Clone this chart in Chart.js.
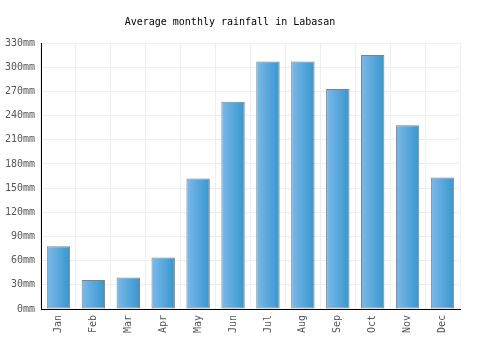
<!DOCTYPE html>
<html>
<head>
<meta charset="utf-8">
<script src="https://cdn.jsdelivr.net/npm/chart.js@4"></script>
<style>
  html, body { margin: 0; padding: 0; background: #fff; }
  #wrap { width: 500px; height: 350px; }
</style>
</head>
<body>
<div id="wrap"><canvas id="chart" width="500" height="350"></canvas></div>
<script>
const months = ['Jan', 'Feb', 'Mar', 'Apr', 'May', 'Jun', 'Jul', 'Aug', 'Sep', 'Oct', 'Nov', 'Dec'];
const rainfall = [78, 36, 39, 64, 162, 257, 307, 307, 273, 315, 228, 163];
const yTicks = [0, 30, 60, 90, 120, 150, 180, 210, 240, 270, 300, 330];

const font = "'DejaVu Sans Mono', monospace";
const barPct = 0.67;

// horizontal gradient across each bar
function barFill(context) {
  const chart = context.chart;
  const x = chart.scales.x;
  if (!x || context.dataIndex === undefined) return '#5aa9e0';
  const cx = x.getPixelForValue(context.dataIndex);
  const half = (x.width / months.length) * barPct / 2;
  if (!isFinite(cx) || !isFinite(half) || half <= 0) return '#5aa9e0';
  const g = chart.ctx.createLinearGradient(cx - half, 0, cx + half, 0);
  g.addColorStop(0, '#7db9e8');
  g.addColorStop(1, '#3696cf');
  return g;
}

new Chart(document.getElementById('chart'), {
  type: 'bar',
  data: {
    labels: months,
    datasets: [{
      data: rainfall,
      backgroundColor: barFill,
      borderColor: '#808080',
      borderWidth: 1,
      borderSkipped: false,
      barPercentage: barPct,
      categoryPercentage: 1
    }]
  },
  options: {
    responsive: false,
    animation: false,
    layout: { padding: { left: 0, right: 40, top: 0, bottom: 0 } },
    plugins: {
      legend: { display: false },
      tooltip: { enabled: false },
      title: {
        display: true,
        text: 'Average monthly rainfall in Labasan',
        color: '#000',
        font: { family: font, size: 10, weight: 'normal', lineHeight: 1.2 },
        padding: { top: 16, bottom: 15 }
      }
    },
    scales: {
      x: {
        grid: { color: '#eeeeee', drawTicks: false },
        border: { color: '#000', width: 1 },
        ticks: {
          color: '#555',
          font: { family: font, size: 10 },
          minRotation: 90,
          maxRotation: 90,
          padding: 6
        },
        afterFit: s => { s.height = 41; }
      },
      y: {
        min: 0,
        max: 330,
        grid: { color: '#eeeeee', drawTicks: false },
        border: { color: '#000', width: 1 },
        afterBuildTicks: s => { s.ticks = yTicks.map(v => ({ value: v })); },
        ticks: {
          color: '#555',
          font: { family: font, size: 10 },
          padding: 6,
          callback: v => v + 'mm'
        },
        afterFit: s => { s.width = 41; }
      }
    }
  }
});
</script>
</body>
</html>
